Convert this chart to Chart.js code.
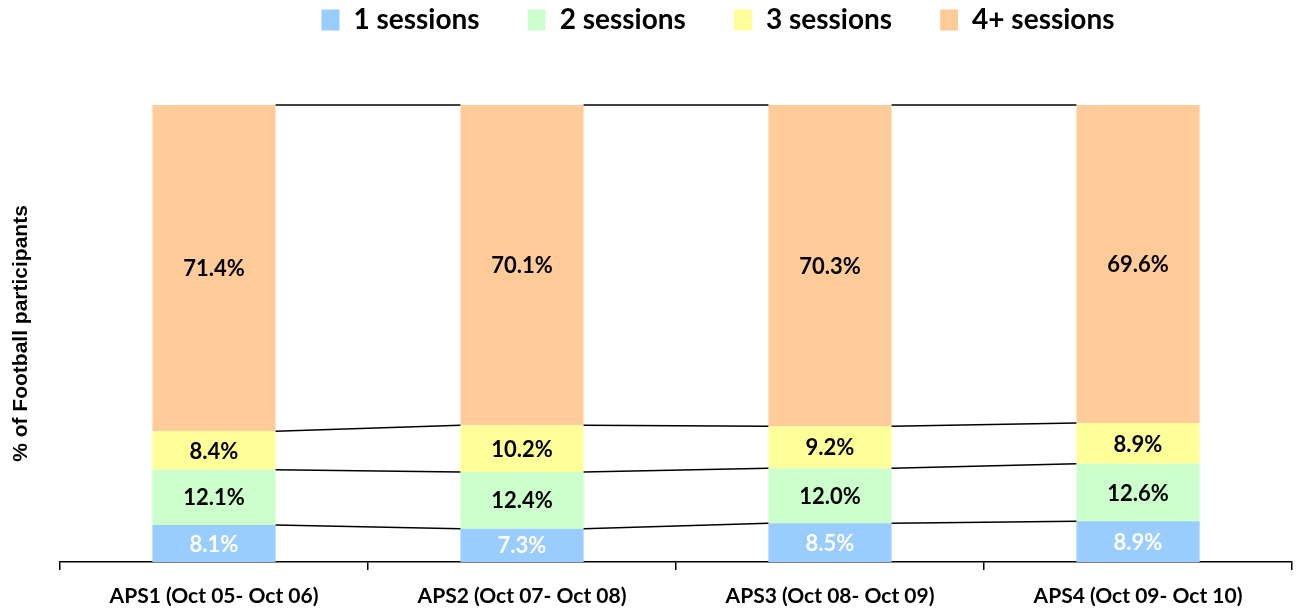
<!DOCTYPE html>
<html>
<head>
<meta charset="utf-8">
<script src="https://cdn.jsdelivr.net/npm/chart.js@4/dist/chart.umd.min.js"></script>
<style>
  html, body { margin: 0; padding: 0; background: #fff; }
  #wrap { width: 1301px; height: 610px; }
</style>
</head>
<body>
<div id="wrap"><canvas id="chart"></canvas></div>
<script>
const categories = ['APS1 (Oct 05- Oct 06)', 'APS2 (Oct 07- Oct 08)', 'APS3 (Oct 08- Oct 09)', 'APS4 (Oct 09- Oct 10)'];
const oneSession = [8.1, 7.3, 8.5, 8.9];
const twoSessions = [12.1, 12.4, 12.0, 12.6];
const threeSessions = [8.4, 10.2, 9.2, 8.9];
const fourPlusSessions = [71.4, 70.1, 70.3, 69.6];
const seriesNames = ['1 sessions', '2 sessions', '3 sessions', '4+ sessions'];

const colors = ['#99CCFF', '#CCFFCC', '#FFFF99', '#FFCC99'];
const labelColors = ['#ffffff', '#000000', '#000000', '#000000'];

// lines joining the top of each segment between neighbouring bars
const seriesLines = {
  id: 'seriesLines',
  afterDatasetsDraw(chart) {
    const ctx = chart.ctx;
    const y = chart.scales.y;
    const n = chart.data.labels.length;
    ctx.save();
    ctx.strokeStyle = '#000';
    ctx.lineWidth = 1.5;
    chart.data.datasets.forEach((ds, d) => {
      const meta = chart.getDatasetMeta(d);
      for (let i = 0; i < n - 1; i++) {
        let a = 0, b = 0;
        for (let k = 0; k <= d; k++) {
          a += chart.data.datasets[k].data[i];
          b += chart.data.datasets[k].data[i + 1];
        }
        const bar1 = meta.data[i], bar2 = meta.data[i + 1];
        ctx.beginPath();
        ctx.moveTo(bar1.x + bar1.width / 2, y.getPixelForValue(a));
        ctx.lineTo(bar2.x - bar2.width / 2, y.getPixelForValue(b));
        ctx.stroke();
      }
    });
    ctx.restore();
  }
};

// value labels in the middle of each segment
const valueLabels = {
  id: 'valueLabels',
  afterDatasetsDraw(chart) {
    const ctx = chart.ctx;
    ctx.save();
    ctx.font = 'bold 22px Lato';
    ctx.textAlign = 'center';
    ctx.textBaseline = 'middle';
    chart.data.datasets.forEach((ds, d) => {
      const meta = chart.getDatasetMeta(d);
      meta.data.forEach((bar, i) => {
        ctx.fillStyle = labelColors[d];
        ctx.fillText(ds.data[i].toFixed(1) + '%', bar.x, (bar.y + bar.base) / 2 + 1);
      });
    });
    ctx.restore();
  }
};

// push the plot down below the legend, and nudge the legend to the right
const legendSpace = {
  id: 'legendSpace',
  beforeInit(chart) {
    const fit = chart.legend.fit;
    chart.legend.fit = function () {
      fit.bind(chart.legend)();
      this.height = 147;
    };
  },
  afterLayout(chart) {
    chart.legend.left += 144;
  }
};

const seriesData = [oneSession, twoSessions, threeSessions, fourPlusSessions];

new Chart(document.getElementById('chart'), {
  type: 'bar',
  data: {
    labels: categories,
    datasets: seriesData.map((vals, i) => ({
      label: seriesNames[i],
      data: vals,
      backgroundColor: colors[i],
      borderWidth: 0,
      categoryPercentage: 0.4,
      barPercentage: 1.0
    }))
  },
  options: {
    responsive: true,
    maintainAspectRatio: false,
    animation: false,
    layout: { padding: { top: -42, right: 9, bottom: 0, left: 0 } },
    plugins: {
      legend: {
        position: 'top',
        labels: {
          boxWidth: 18,
          boxHeight: 21,
          padding: 48,
          color: '#000',
          font: { family: 'Lato', size: 28, weight: 'bold' }
        }
      },
      tooltip: { enabled: false }
    },
    scales: {
      x: {
        stacked: true,
        grid: { display: true, offset: true, drawOnChartArea: false, tickLength: 8, color: '#000', lineWidth: 1.5 },
        border: { display: true, color: '#000', width: 1.5 },
        ticks: { color: '#000', padding: 14, maxRotation: 0, font: { family: 'Lato', size: 21, weight: 'bold' } },
        afterFit(s) { s.height = 48; }
      },
      y: {
        stacked: true,
        min: 0,
        max: 100,
        grid: { display: false, drawTicks: false },
        border: { display: false },
        ticks: { display: false },
        title: {
          display: true,
          text: '% of Football participants',
          color: '#000',
          padding: { top: 9, bottom: 10 },
          font: { family: 'Liberation Sans', size: 21, weight: 'bold' }
        },
        afterFit(s) { s.width = 60; }
      }
    }
  },
  plugins: [seriesLines, valueLabels, legendSpace]
});
</script>
</body>
</html>
